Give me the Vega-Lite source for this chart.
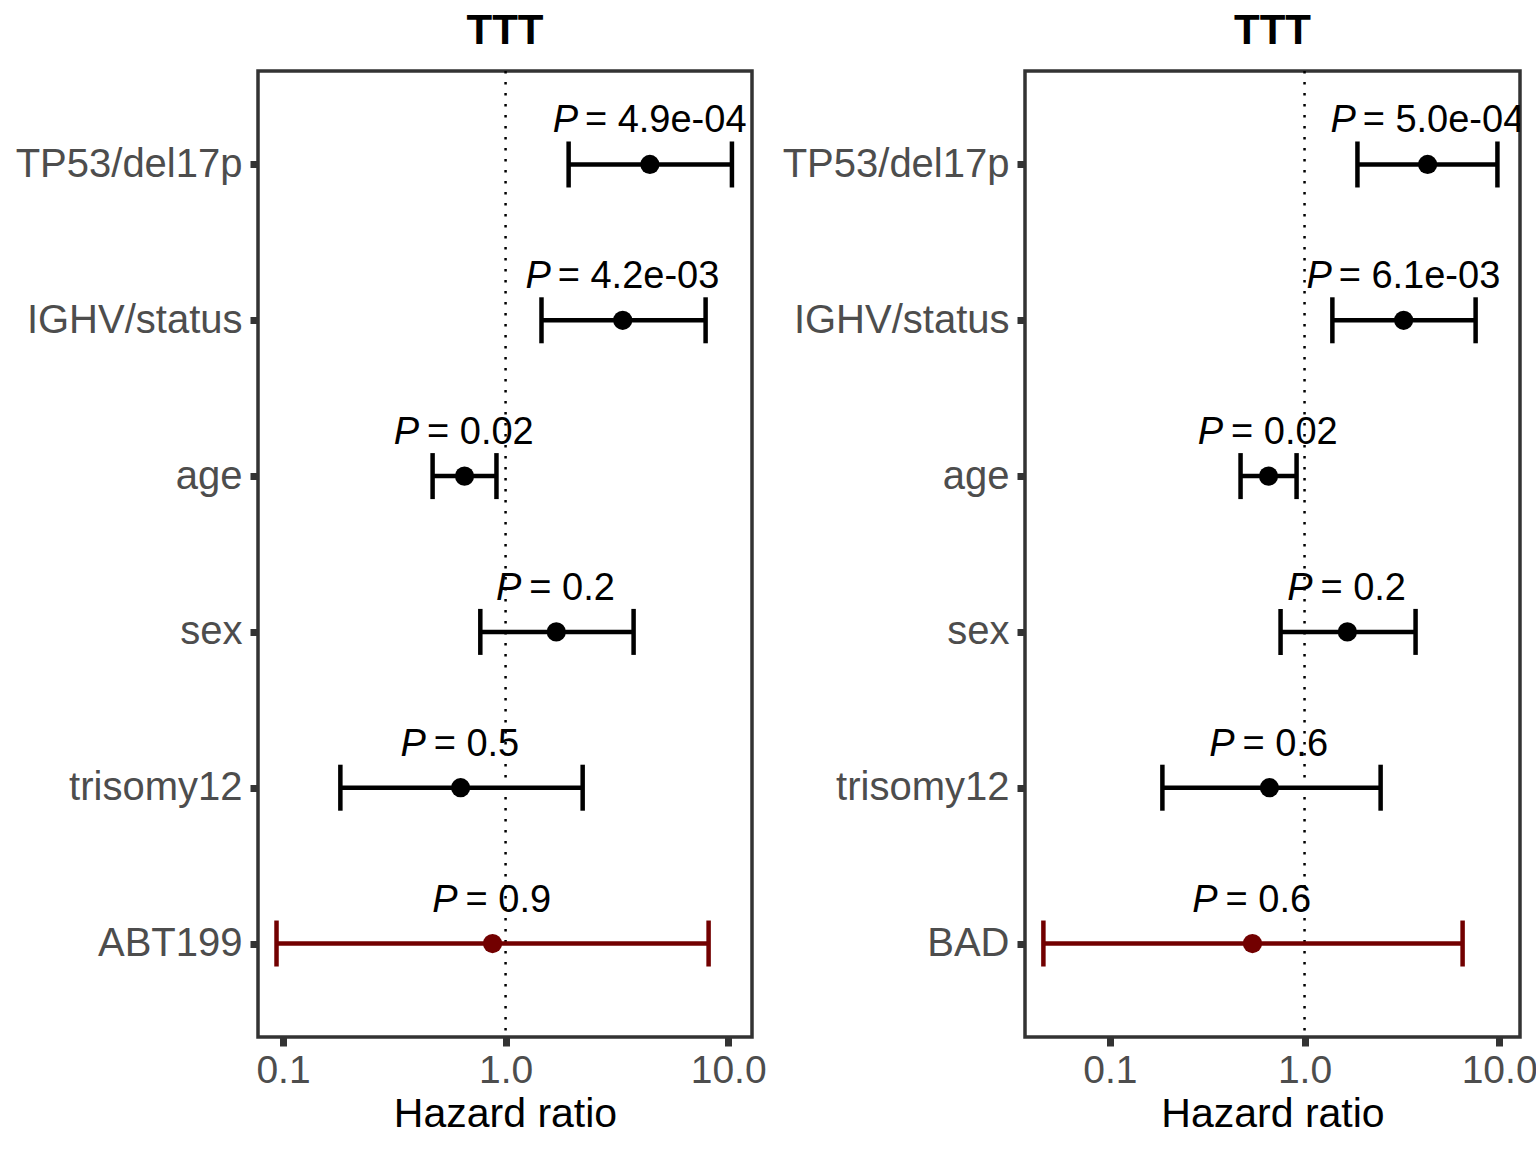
{
  "$schema": "https://vega.github.io/schema/vega-lite/v6.json",
  "background": "white",
  "padding": {"left": 13, "top": 8, "right": 0, "bottom": 5},
  "bounds": "flush",
  "spacing": 273,
  "config": {
    "font": "Liberation Sans",
    "view": {"stroke": "#333333", "strokeWidth": 3.5},
    "axis": {"domain": false, "grid": false, "tickColor": "#333333", "tickWidth": 7, "tickSize": 8,
             "labelColor": "#4D4D4D", "labelFontSize": 40, "labelFont": "Liberation Sans", "labelLimit": 0,
             "titleFont": "Liberation Sans", "titleColor": "black", "titleFontWeight": "normal", "titleFontSize": 41},
    "axisX": {"labelFontSize": 39, "labelPadding": 5, "titlePadding": 4, "tickSize": 9},
    "axisY": {"labelPadding": 8}
  },
  "datasets": {
    "left": [
      {"feature": "TP53/del17p", "hr": 4.45, "lo": 1.92, "hi": 10.4, "p": "4.9e-04", "type": "cov"},
      {"feature": "IGHV/status", "hr": 3.36, "lo": 1.45, "hi": 7.92, "p": "4.2e-03", "type": "cov"},
      {"feature": "age", "hr": 0.654, "lo": 0.47, "hi": 0.91, "p": "0.02", "type": "cov"},
      {"feature": "sex", "hr": 1.69, "lo": 0.77, "hi": 3.76, "p": "0.2", "type": "cov"},
      {"feature": "trisomy12", "hr": 0.628, "lo": 0.181, "hi": 2.22, "p": "0.5", "type": "cov"},
      {"feature": "ABT199", "hr": 0.874, "lo": 0.0935, "hi": 8.17, "p": "0.9", "type": "drug"}
    ],
    "right": [
      {"feature": "TP53/del17p", "hr": 4.29, "lo": 1.87, "hi": 9.8, "p": "5.0e-04", "type": "cov"},
      {"feature": "IGHV/status", "hr": 3.23, "lo": 1.39, "hi": 7.57, "p": "6.1e-03", "type": "cov"},
      {"feature": "age", "hr": 0.653, "lo": 0.469, "hi": 0.91, "p": "0.02", "type": "cov"},
      {"feature": "sex", "hr": 1.66, "lo": 0.753, "hi": 3.72, "p": "0.2", "type": "cov"},
      {"feature": "trisomy12", "hr": 0.66, "lo": 0.186, "hi": 2.46, "p": "0.6", "type": "cov"},
      {"feature": "BAD", "hr": 0.54, "lo": 0.0455, "hi": 6.49, "p": "0.6", "type": "drug"}
    ]
  },
  "resolve": {"scale": {"x": "independent", "y": "independent", "color": "independent"}},
  "hconcat": [
    {
      "width": 494, "height": 966,
      "title": {"text": "TTT", "fontSize": 42, "fontWeight": "bold", "anchor": "middle", "frame": "group", "baseline": "bottom", "offset": -25, "color": "black"},
      "data": {"name": "left"},
      "transform": [
        {"calculate": "'\u2060\u00a0\u00a0 = ' + datum.p", "as": "labA"},
        {"calculate": "'P\u00a0\u00a0\u00a0\u00a0' + replace(replace(replace(datum.p, regexp('[0-9e]','g'), '\u00a0\u00a0'), regexp('[.]','g'), '\u00a0'), regexp('-','g'), '\u00a0') + '\u2060'", "as": "labB"}
      ],
      "layer": [
        {"data": {"values": [{}]},
         "mark": {"type": "rule", "color": "black", "strokeWidth": 2.5, "strokeDash": [2.5, 8.5]},
         "encoding": {"x": {"datum": 1, "type": "quantitative",
           "scale": {"type": "log", "domain": [0.0772, 12.8], "nice": false, "zero": false},
           "axis": {"title": "Hazard ratio", "values": [0.1, 1, 10], "format": ".1f"}}}},
        {"mark": {"type": "rule", "strokeWidth": 4.5},
         "encoding": {"x": {"field": "lo", "type": "quantitative"}, "x2": {"field": "hi"},
           "y": {"field": "feature", "type": "nominal", "sort": ["TP53/del17p", "IGHV/status", "age", "sex", "trisomy12", "ABT199"], "scale": {"type": "point", "padding": 0.6}, "axis": {"title": null}},
           "color": {"field": "type", "type": "nominal", "scale": {"domain": ["cov", "drug"], "range": ["#000000", "#720000"]}, "legend": null}}},
        {"mark": {"type": "tick", "thickness": 4.5, "size": 46, "opacity": 1},
         "encoding": {"x": {"field": "lo", "type": "quantitative"},
           "y": {"field": "feature", "type": "nominal", "sort": ["TP53/del17p", "IGHV/status", "age", "sex", "trisomy12", "ABT199"]},
           "color": {"field": "type", "type": "nominal", "legend": null}}},
        {"mark": {"type": "tick", "thickness": 4.5, "size": 46, "opacity": 1},
         "encoding": {"x": {"field": "hi", "type": "quantitative"},
           "y": {"field": "feature", "type": "nominal", "sort": ["TP53/del17p", "IGHV/status", "age", "sex", "trisomy12", "ABT199"]},
           "color": {"field": "type", "type": "nominal", "legend": null}}},
        {"mark": {"type": "circle", "size": 370, "opacity": 1},
         "encoding": {"x": {"field": "hr", "type": "quantitative"},
           "y": {"field": "feature", "type": "nominal", "sort": ["TP53/del17p", "IGHV/status", "age", "sex", "trisomy12", "ABT199"]},
           "color": {"field": "type", "type": "nominal", "legend": null}}},
        {"mark": {"type": "text", "fontSize": 38, "baseline": "alphabetic", "align": "center", "dy": -32, "clip": true, "color": "black"},
         "encoding": {"x": {"field": "hr", "type": "quantitative"},
           "y": {"field": "feature", "type": "nominal", "sort": ["TP53/del17p", "IGHV/status", "age", "sex", "trisomy12", "ABT199"]},
           "text": {"field": "labA"}}},
        {"mark": {"type": "text", "fontSize": 38, "fontStyle": "italic", "baseline": "alphabetic", "align": "center", "dy": -32, "clip": true, "color": "black"},
         "encoding": {"x": {"field": "hr", "type": "quantitative"},
           "y": {"field": "feature", "type": "nominal", "sort": ["TP53/del17p", "IGHV/status", "age", "sex", "trisomy12", "ABT199"]},
           "text": {"field": "labB"}}}
      ]
    },
    {
      "width": 495, "height": 966,
      "title": {"text": "TTT", "fontSize": 42, "fontWeight": "bold", "anchor": "middle", "frame": "group", "baseline": "bottom", "offset": -25, "color": "black"},
      "data": {"name": "right"},
      "transform": [
        {"calculate": "'\u2060\u00a0\u00a0 = ' + datum.p", "as": "labA"},
        {"calculate": "'P\u00a0\u00a0\u00a0\u00a0' + replace(replace(replace(datum.p, regexp('[0-9e]','g'), '\u00a0\u00a0'), regexp('[.]','g'), '\u00a0'), regexp('-','g'), '\u00a0') + '\u2060'", "as": "labB"}
      ],
      "layer": [
        {"data": {"values": [{}]},
         "mark": {"type": "rule", "color": "black", "strokeWidth": 2.5, "strokeDash": [2.5, 8.5]},
         "encoding": {"x": {"datum": 1, "type": "quantitative",
           "scale": {"type": "log", "domain": [0.0366, 12.8], "nice": false, "zero": false},
           "axis": {"title": "Hazard ratio", "values": [0.1, 1, 10], "format": ".1f"}}}},
        {"mark": {"type": "rule", "strokeWidth": 4.5},
         "encoding": {"x": {"field": "lo", "type": "quantitative"}, "x2": {"field": "hi"},
           "y": {"field": "feature", "type": "nominal", "sort": ["TP53/del17p", "IGHV/status", "age", "sex", "trisomy12", "BAD"], "scale": {"type": "point", "padding": 0.6}, "axis": {"title": null}},
           "color": {"field": "type", "type": "nominal", "scale": {"domain": ["cov", "drug"], "range": ["#000000", "#720000"]}, "legend": null}}},
        {"mark": {"type": "tick", "thickness": 4.5, "size": 46, "opacity": 1},
         "encoding": {"x": {"field": "lo", "type": "quantitative"},
           "y": {"field": "feature", "type": "nominal", "sort": ["TP53/del17p", "IGHV/status", "age", "sex", "trisomy12", "BAD"]},
           "color": {"field": "type", "type": "nominal", "legend": null}}},
        {"mark": {"type": "tick", "thickness": 4.5, "size": 46, "opacity": 1},
         "encoding": {"x": {"field": "hi", "type": "quantitative"},
           "y": {"field": "feature", "type": "nominal", "sort": ["TP53/del17p", "IGHV/status", "age", "sex", "trisomy12", "BAD"]},
           "color": {"field": "type", "type": "nominal", "legend": null}}},
        {"mark": {"type": "circle", "size": 370, "opacity": 1},
         "encoding": {"x": {"field": "hr", "type": "quantitative"},
           "y": {"field": "feature", "type": "nominal", "sort": ["TP53/del17p", "IGHV/status", "age", "sex", "trisomy12", "BAD"]},
           "color": {"field": "type", "type": "nominal", "legend": null}}},
        {"mark": {"type": "text", "fontSize": 38, "baseline": "alphabetic", "align": "center", "dy": -32, "clip": true, "color": "black"},
         "encoding": {"x": {"field": "hr", "type": "quantitative"},
           "y": {"field": "feature", "type": "nominal", "sort": ["TP53/del17p", "IGHV/status", "age", "sex", "trisomy12", "BAD"]},
           "text": {"field": "labA"}}},
        {"mark": {"type": "text", "fontSize": 38, "fontStyle": "italic", "baseline": "alphabetic", "align": "center", "dy": -32, "clip": true, "color": "black"},
         "encoding": {"x": {"field": "hr", "type": "quantitative"},
           "y": {"field": "feature", "type": "nominal", "sort": ["TP53/del17p", "IGHV/status", "age", "sex", "trisomy12", "BAD"]},
           "text": {"field": "labB"}}}
      ]
    }
  ]
}
